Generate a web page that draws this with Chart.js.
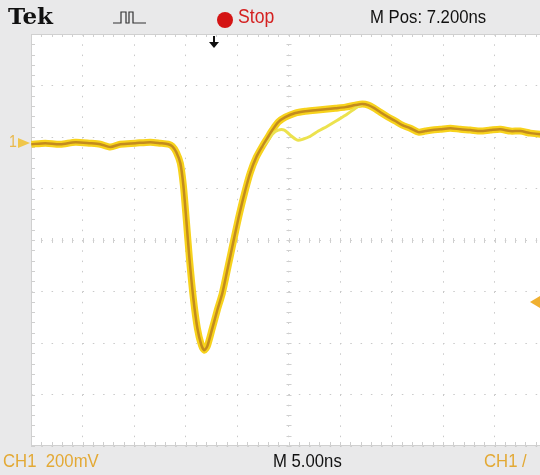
<!DOCTYPE html>
<html>
<head>
<meta charset="utf-8">
<script src="https://cdn.jsdelivr.net/npm/chart.js@4/dist/chart.umd.min.js"></script>
<style>
  html, body { margin: 0; padding: 0; width: 540px; height: 475px; overflow: hidden; background: #e9e9ea; }
  #wrap { position: absolute; left: 0; top: 0; width: 560px; height: 475px; }
  .lbl { position: absolute; white-space: nowrap; font-family: "Liberation Sans", Arial, sans-serif; transform: scaleX(0.88); transform-origin: 0 0; }
</style>
</head>
<body>
<div id="wrap"><canvas id="scope" width="560" height="475"></canvas></div>

<div class="lbl" style="left:8px;top:2px;font-family:'DejaVu Serif','Liberation Serif',serif;font-weight:bold;font-size:23px;color:#111;transform:none;">Tek</div>
<svg style="position:absolute;left:112px;top:9px" width="36" height="16">
  <path d="M1 14 H9 V3 H14 V14 H17 V3 H21 V14 H34" fill="none" stroke="#333" stroke-width="1.2"/>
</svg>
<svg style="position:absolute;left:216px;top:11px" width="18" height="18"><circle cx="9" cy="9" r="8" fill="#d41414"/></svg>
<div class="lbl" style="left:238px;top:5px;font-size:20px;color:#d42020;">Stop</div>
<div class="lbl" style="left:370px;top:6px;font-size:19px;color:#111;">M Pos: 7.200ns</div>
<svg style="position:absolute;left:207px;top:36px" width="14" height="14"><path d="M7 0 V7" stroke="#111" stroke-width="2"/><path d="M2 6 L12 6 L7 12 Z" fill="#111"/></svg>

<div class="lbl" style="left:3px;top:450px;font-size:19px;color:#e3a935;">CH1&nbsp;&nbsp;200mV</div>
<div class="lbl" style="left:273px;top:450px;font-size:19px;color:#111;">M 5.00ns</div>
<div class="lbl" style="left:484px;top:450px;font-size:19px;color:#e3a935;">CH1 /</div>

<div class="lbl" style="left:9px;top:133px;font-size:16px;color:#e9b84a;">1</div>
<svg style="position:absolute;left:18px;top:138px" width="14" height="10"><path d="M0 0 L12 5 L0 10 Z" fill="#f0c64a"/></svg>
<svg style="position:absolute;left:528px;top:296px" width="12" height="12"><path d="M12 0 L2 6 L12 12 Z" fill="#f0b030"/></svg>

<script>
// time in ns relative to trigger, voltage in mV relative to CH1 ground
const timeNs = [-17.77, -16.41, -14.95, -13.5, -12.04, -11.07, -10.1, -9.13, -7.67, -6.21,
  -5.24, -4.47, -4.08, -3.69, -3.3, -3.01, -2.72, -2.43, -2.04, -1.65,
  -1.26, -0.97, -0.68, -0.19, 0.29, 0.78, 1.36, 1.84, 2.43, 3.01,
  3.5, 4.08, 4.66, 5.15, 5.63, 6.21, 6.89, 7.86, 8.83, 9.81,
  10.78, 11.75, 12.72, 13.69, 14.37, 14.95, 15.53, 16.12, 16.89, 17.57,
  18.25, 19.03, 19.81, 20.49, 21.17, 21.94, 22.91, 23.88, 24.85, 25.83,
  26.8, 27.77, 28.74, 29.71, 30.68, 31.65, 32.23];
const ch1Mv = [-8, -4, -8, 0, -4, -8, -19, -8, -4, 0,
  -4, -8, -16, -39, -82, -167, -303, -447, -606, -722,
  -788, -808, -792, -722, -652, -586, -478, -388, -280, -186,
  -117, -58, -16, 16, 47, 78, 97, 113, 120, 124,
  128, 132, 136, 144, 148, 144, 132, 116, 97, 82,
  66, 54, 39, 43, 47, 50, 54, 50, 47, 43,
  47, 50, 43, 43, 35, 31, 31];

// a single captured sweep that rings differently after the rising edge
const ghostTimeNs = [4.66, 5.15, 5.63, 6.21, 6.8, 7.38, 8.06, 8.64, 9.32, 10.1, 10.97, 11.94, 12.91, 13.69, 14.37];
const ghostMv = [-16, 4, 31, 47, 47, 27, 8, 12, 23, 43, 62, 85, 109, 132, 148];

// screen: 10 x 5 ns, 8 x 200 mV
const xDivs = [-17.8, -12.8, -7.8, -2.8, 2.2, 7.2, 12.2, 17.2, 22.2, 27.2, 32.2];
const yDivs = [-1180, -980, -780, -580, -380, -180, 20, 220, 420];

const pts = (xs, ys) => xs.map((x, i) => ({ x: x, y: ys[i] }));

const scopeGrid = {
  id: 'scopeGrid',
  beforeDraw(chart) {
    const { ctx, chartArea: a } = chart;
    ctx.save();
    ctx.fillStyle = '#ffffff';
    ctx.fillRect(a.left, a.top, a.right - a.left, a.bottom - a.top);
    ctx.restore();
  },
  beforeDatasetsDraw(chart) {
    const { ctx, chartArea: a, scales: { x, y } } = chart;
    const cx = x.getPixelForValue(xDivs[5]);
    const cy = y.getPixelForValue(yDivs[4]);
    ctx.save();
    ctx.strokeStyle = '#cfcfcf';
    ctx.lineWidth = 1;
    ctx.beginPath();
    for (let v = xDivs[0]; v <= xDivs[10] + 0.01; v += 1) {
      const px = Math.round(x.getPixelForValue(v)) + 0.5;
      ctx.moveTo(px, cy - 2); ctx.lineTo(px, cy + 3);
      ctx.moveTo(px, a.bottom); ctx.lineTo(px, a.bottom - 4);
      ctx.moveTo(px, a.top); ctx.lineTo(px, a.top + 3);
    }
    for (let v = yDivs[0]; v <= yDivs[8] + 0.01; v += 40) {
      const py = Math.round(y.getPixelForValue(v)) + 0.5;
      ctx.moveTo(cx - 2, py); ctx.lineTo(cx + 3, py);
      ctx.moveTo(a.left, py); ctx.lineTo(a.left + 4, py);
      ctx.moveTo(a.right, py); ctx.lineTo(a.right - 4, py);
    }
    ctx.stroke();
    ctx.strokeStyle = '#d0d0d0';
    ctx.beginPath();
    ctx.moveTo(a.left + 0.5, a.top); ctx.lineTo(a.left + 0.5, a.bottom);
    ctx.moveTo(a.left, a.bottom - 0.5); ctx.lineTo(a.right, a.bottom - 0.5);
    ctx.moveTo(a.left, a.top + 0.5); ctx.lineTo(a.right, a.top + 0.5);
    ctx.stroke();
    ctx.restore();
  }
};

new Chart(document.getElementById('scope'), {
  type: 'line',
  data: {
    datasets: [{
      label: 'CH1 core',
      data: pts(timeNs, ch1Mv),
      borderColor: '#c38b1e',
      borderWidth: 2.5,
      tension: 0.25
    }, {
      label: 'CH1 sweep',
      data: pts(ghostTimeNs, ghostMv),
      borderColor: '#ece24e',
      borderWidth: 3,
      tension: 0.3
    }, {
      label: 'CH1',
      data: pts(timeNs, ch1Mv),
      borderColor: '#f7d21c',
      borderWidth: 7,
      tension: 0.25
    }]
  },
  options: {
    responsive: false,
    animation: false,
    devicePixelRatio: 1,
    elements: { point: { radius: 0 } },
    layout: { padding: { left: 31, top: 34, right: 14, bottom: 29 } },
    plugins: { legend: { display: false }, tooltip: { enabled: false } },
    scales: {
      x: {
        type: 'linear',
        min: xDivs[0],
        max: xDivs[10],
        afterBuildTicks: s => { s.ticks = xDivs.map(v => ({ value: v })) },
        ticks: { display: false },
        grid: { color: '#c9c9c9', drawTicks: false, tickLength: 0 },
        border: { display: false, dash: [1.5, 8.8] }
      },
      y: {
        min: yDivs[0],
        max: yDivs[8],
        afterBuildTicks: s => { s.ticks = yDivs.map(v => ({ value: v })) },
        ticks: { display: false },
        grid: { color: '#c9c9c9', drawTicks: false, tickLength: 0 },
        border: { display: false, dash: [1.5, 8.8] }
      }
    }
  },
  plugins: [scopeGrid]
})
</script>
</body>
</html>
